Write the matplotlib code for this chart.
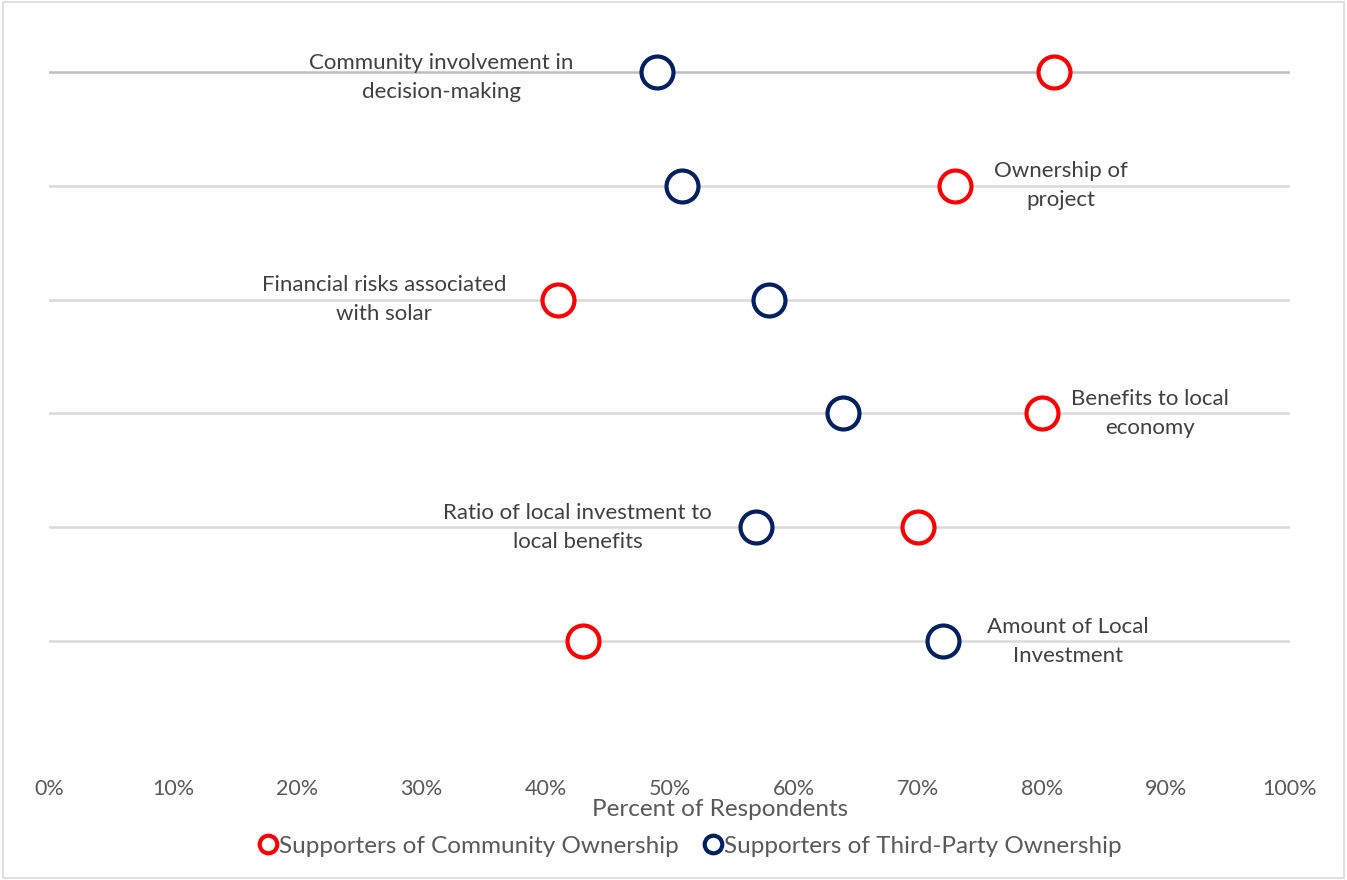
import matplotlib
matplotlib.use("Agg")
import matplotlib.pyplot as plt
from matplotlib.patches import Rectangle

# ---- data ----
factors = ["Community involvement in\ndecision-making",
           "Ownership of\nproject",
           "Financial risks associated\nwith solar",
           "Benefits to local\neconomy",
           "Ratio of local investment to\nlocal benefits",
           "Amount of Local\nInvestment"]
community = [81, 73, 41, 80, 70, 43]
third_party = [49, 51, 58, 64, 57, 72]
label_x = [31.6, 81.5, 27.0, 88.7, 42.6, 82.1]
series_names = ["Supporters of Community Ownership",
                "Supporters of Third-Party Ownership"]
x_ticks = list(range(0, 101, 10))

RED = "#FF0000"
NAVY = "#002060"
W, H = 1347, 880
FONT = "Lato"
plt.rcParams['font.family'] = [FONT, 'DejaVu Sans']

fig = plt.figure(figsize=(W / 100, H / 100), dpi=100)
fig.patches.append(Rectangle((3 / W, 2 / H), (W - 6) / W, (H - 4) / H,
                             transform=fig.transFigure, fill=False,
                             edgecolor="#d9d9d9", linewidth=1.2))

left, right = 49 / W, 1290 / W
bottom_px, top_px = 755, 15
ax = fig.add_axes([left, 1 - bottom_px / H, right - left, (bottom_px - top_px) / H])
ax.set_xlim(0, 100)
n = len(factors)
ax.set_ylim(0, 6.5)
ys = [n - i for i in range(n)]

for i, y in enumerate(ys):
    col = "#bfbfbf" if i == 0 else "#d9d9d9"
    ax.axhline(y, color=col, linewidth=1.8, zorder=1)

ax.plot(community, ys, linestyle="none", marker="o", markersize=23,
        markerfacecolor="white", markeredgecolor=RED, markeredgewidth=3,
        zorder=3, label=series_names[0])
ax.plot(third_party, ys, linestyle="none", marker="o", markersize=23,
        markerfacecolor="white", markeredgecolor=NAVY, markeredgewidth=3,
        zorder=3, label=series_names[1])

for i, (lab, lx, y) in enumerate(zip(factors, label_x, ys)):
    dy = -0.05 if i == 0 else 0.0
    ax.text(lx, y + dy, lab, ha="center", va="center", fontsize=16,
            color="#404040", linespacing=1.55, zorder=4)

ax.set_xticks(x_ticks)
ax.set_xticklabels([f"{t}%" for t in x_ticks], fontsize=15.5, color="#595959")
ax.tick_params(axis="x", length=0, pad=17)
ax.set_yticks([])
for s in ax.spines.values():
    s.set_visible(False)

fig.text(720 / W, 1 - 809 / H, "Percent of Respondents", ha="center",
         va="center", fontsize=17.5, color="#595959")

handles, labels = ax.get_legend_handles_labels()
leg = fig.legend(handles, labels, loc="center", ncol=2,
                 bbox_to_anchor=(690 / W, 1 - 846 / H), frameon=False,
                 fontsize=17.5, handletextpad=0.05, columnspacing=1.0,
                 handlelength=0.8, markerscale=0.55)
for t in leg.get_texts():
    t.set_color("#595959")

fig.savefig("out.png", dpi=100)
